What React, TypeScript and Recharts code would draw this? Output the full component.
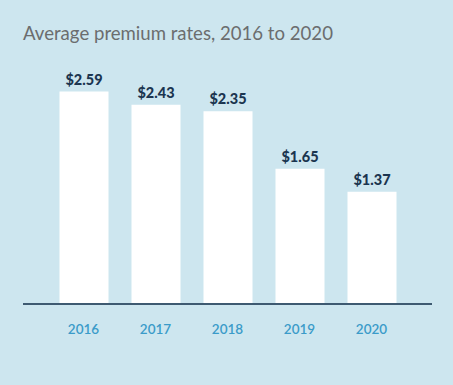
import React from "react";
import { BarChart, Bar, XAxis, YAxis, LabelList } from "recharts";

const years = ["2016", "2017", "2018", "2019", "2020"];
const rates = [2.59, 2.43, 2.35, 1.65, 1.37];
const title = "Average premium rates, 2016 to 2020";

const data = years.map((year, i) => ({ year, rate: rates[i] }));

const W = 453;
const H = 385;
const BG = "#cde6ef";

export default function App() {
  return (
    <div style={{ position: "fixed", left: 0, top: 0, width: W, height: H, background: BG }}>
      <BarChart
        width={W}
        height={H}
        data={data}
        margin={{ top: 58, right: 21, bottom: 51, left: 23 }}
        barSize={49}
      >
        <YAxis hide domain={[0, 3]} />
        <XAxis
          dataKey="year"
          padding={{ left: 24.5, right: 24.5 }}
          axisLine={{ stroke: "#3e5a71", strokeWidth: 2 }}
          tickLine={false}
          tickMargin={14}
          tick={{ fill: "#3a9bc9", fontSize: 13.5, fontFamily: "Lato", fontWeight: 600 }}
          interval={0}
        />
        <Bar dataKey="rate" fill="#ffffff" isAnimationActive={false}>
          <LabelList
            dataKey="rate"
            position="top"
            offset={7}
            formatter={(v: any) => `$${Number(v).toFixed(2)}`}
            style={{ fill: "#1b3550", fontSize: 14.5, fontWeight: 900, fontFamily: "Lato" }}
          />
        </Bar>
      </BarChart>
      <svg
        width={W}
        height={H}
        style={{ position: "absolute", left: 0, top: 0, pointerEvents: "none" }}
      >
        <text x={23} y={40} fill="#6b6d6e" fontSize={18.6} fontFamily="Lato">
          {title}
        </text>
      </svg>
    </div>
  );
}
